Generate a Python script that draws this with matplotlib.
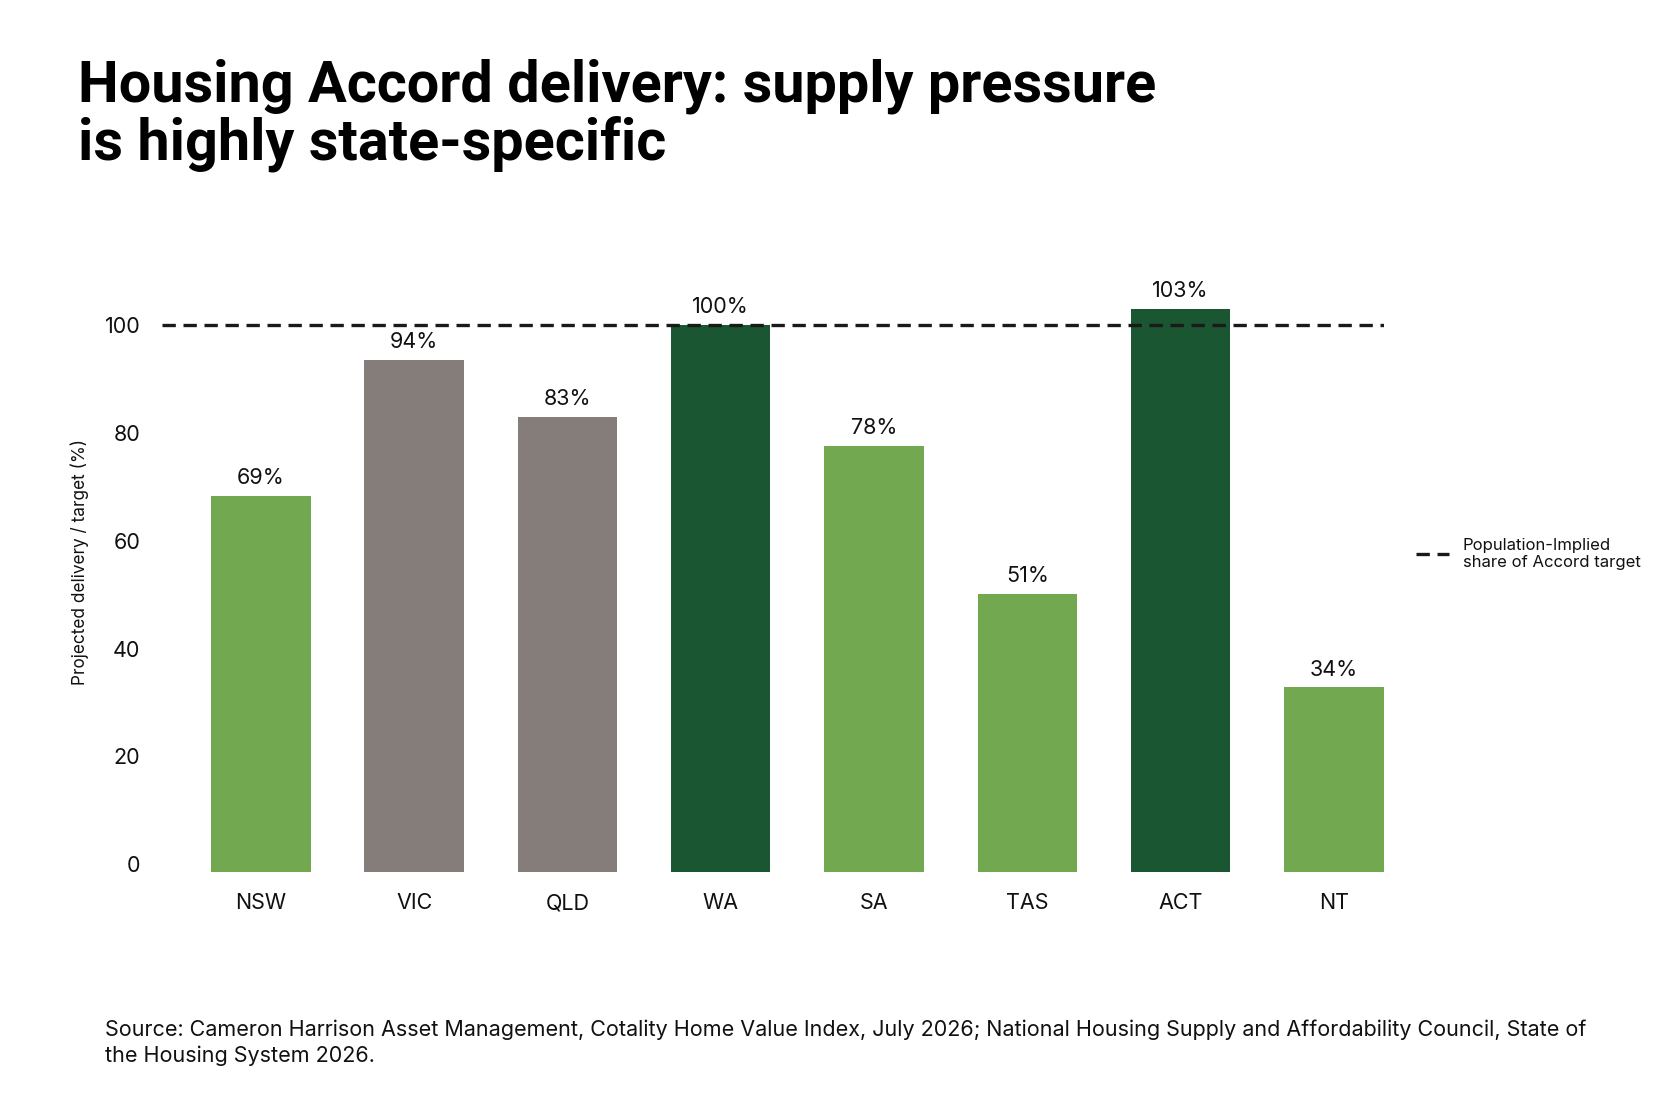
import matplotlib
matplotlib.use("Agg")
import matplotlib.pyplot as plt
from matplotlib.lines import Line2D

states = ["NSW", "VIC", "QLD", "WA", "SA", "TAS", "ACT", "NT"]
values = [68.3, 93.5, 83.0, 100.0, 77.6, 50.1, 103.0, 32.8]
labels = ["69%", "94%", "83%", "100%", "78%", "51%", "103%", "34%"]
groups = ["light", "grey", "grey", "dark", "light", "light", "dark", "light"]
target = 100
yticks = [0, 20, 40, 60, 80, 100]
legend_label = "Population-Implied\nshare of Accord target"
title = "Housing Accord delivery: supply pressure\nis highly state-specific"
source = ("Source: Cameron Harrison Asset Management, Cotality Home Value Index, July 2026; "
          "National Housing Supply and Affordability Council, State of\nthe Housing System 2026.")

palette = {"light": "#72A950", "grey": "#857D79", "dark": "#1B5633"}
BAR_BASE = -1.5  # bars are drawn from slightly below the zero line
DASH = (0, (4.0, 2.3))

plt.rcParams['font.family'] = ['Inter', 'DejaVu Sans']
TXT = "#111111"

W, H = 1680, 1120
fig = plt.figure(figsize=(W / 100, H / 100), dpi=100)
ax = fig.add_axes([162 / W, 0.21866, 0.7274, 0.5395])

x = list(range(len(states)))
ax.bar(x, [v - BAR_BASE for v in values], bottom=BAR_BASE, width=0.649,
       color=[palette[g] for g in groups], zorder=2)
ax.axhline(target, color="#1a1a1a", lw=2.4, linestyle=DASH, zorder=3)
for xi, v, lab in zip(x, values, labels):
    ax.annotate(lab, (xi, v), xytext=(0, 8.5), textcoords="offset points",
                ha="center", va="baseline", fontsize=15.5, color=TXT)

ax.set_xlim(-0.645, 7.327)
ax.set_ylim(-2, 110)
ax.set_yticks(yticks)
ax.set_yticklabels([str(t) for t in yticks], fontsize=15.5, color=TXT)
ax.set_xticks(x)
ax.set_xticklabels(states, fontsize=15.5, color=TXT)
ax.tick_params(axis="y", length=0, pad=15.5)
ax.tick_params(axis="x", length=0, pad=13)
for s in ax.spines.values():
    s.set_visible(False)
ax.set_ylabel("Projected delivery / target (%)", fontsize=12.4, color=TXT)
ax.yaxis.set_label_coords(-0.0597, 0.518)

leg = fig.legend([Line2D([0], [0], color="#1a1a1a", lw=2.4, linestyle=DASH)],
                 [legend_label], loc="center left",
                 bbox_to_anchor=(1416 / W, 1 - 554 / H), bbox_transform=fig.transFigure,
                 frameon=False, fontsize=12, handlelength=2.0, handletextpad=0.8,
                 borderpad=0, borderaxespad=0)
for t in leg.get_texts():
    t.set_linespacing(1.1)
    t.set_color(TXT)

fig.text(78 / W, 1 - 160 / H, title, fontfamily=["Roboto", "DejaVu Sans"],
         fontsize=41.5, fontweight="bold", ha="left", va="baseline", linespacing=1.05,
         color="#000000")
fig.text(105 / W, 1 - 1062 / H, source, fontsize=15.5, ha="left", va="baseline",
         linespacing=1.34, color=TXT)

fig.savefig("out.png", dpi=100, facecolor="white")
